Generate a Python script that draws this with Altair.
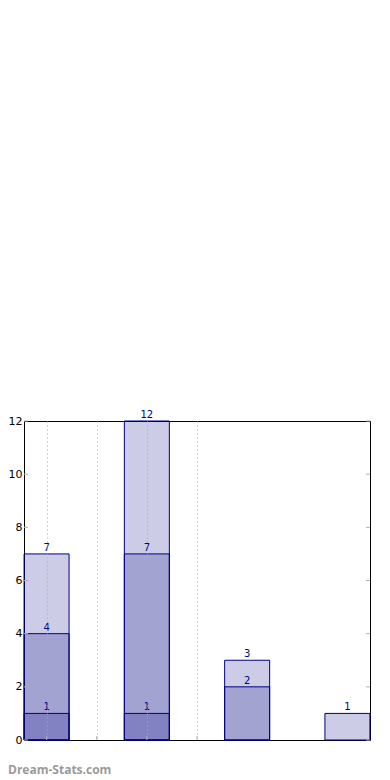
import altair as alt
import pandas as pd

positions = [0, 1, 2, 3]
series_total = [7, 12, 3, 1]
series_mid = [4, 7, 2, 0]
series_low = [1, 1, 0, 0]
y_ticks = [0, 2, 4, 6, 8, 10, 12]
x_grid = [0, 0.5, 1, 1.5]
watermark = ["Dream-Stats.com"]

rows = []
for name, vals in [("total", series_total), ("mid", series_mid), ("low", series_low)]:
    for p, v in zip(positions, vals):
        if v > 0:
            rows.append({"pos": p, "value": v, "series": name})
df = pd.DataFrame(rows)

W, H = 346, 319
xscale = alt.Scale(domain=[-0.225, 3.225], nice=False, zero=False, padding=0)
yscale = alt.Scale(domain=[0, 12], nice=False, padding=0)

x_axis = alt.Axis(values=x_grid, grid=True, gridDash=[1, 3], gridColor="#a8a8a8",
                  gridWidth=1, labels=False, ticks=False, domain=False, title=None, zindex=1)
y_axis = alt.Axis(values=y_ticks, grid=False, ticks=False, domain=False, title=None,
                  labelFont="DejaVu Sans", labelFontSize=11, labelColor="black", labelPadding=2)

bars = alt.Chart(df).mark_bar(size=45, fill="#000080", fillOpacity=0.2,
                              stroke="#000080", strokeWidth=1).encode(
    x=alt.X("pos:Q", scale=xscale, axis=x_axis),
    y=alt.Y("value:Q", scale=yscale, axis=y_axis, stack=None),
)

labels = alt.Chart(df).mark_text(font="DejaVu Sans", fontSize=10, color="#00008b",
                                 baseline="bottom", dy=-1).encode(
    x=alt.X("pos:Q", scale=xscale),
    y=alt.Y("value:Q", scale=yscale, stack=None),
    text=alt.Text("value:Q"),
)

ydf = pd.DataFrame({"t": y_ticks})
xdf = pd.DataFrame({"g": x_grid})
tick_color = "#b0b0b0"
left_ticks = alt.Chart(ydf).mark_rule(color=tick_color, strokeWidth=1).encode(
    y=alt.Y("t:Q", scale=yscale), x=alt.value(0), x2=alt.value(4))
right_ticks = alt.Chart(ydf).mark_rule(color=tick_color, strokeWidth=1).encode(
    y=alt.Y("t:Q", scale=yscale), x=alt.value(W - 4), x2=alt.value(W))
bottom_ticks = alt.Chart(xdf).mark_rule(color=tick_color, strokeWidth=1).encode(
    x=alt.X("g:Q", scale=xscale), y=alt.value(H - 4), y2=alt.value(H))

wm = alt.Chart(pd.DataFrame({"w": watermark})).mark_text(
    font="Open Sans", fontSize=12, fontWeight="bold", color="#9a9a9a",
    align="left", baseline="alphabetic").encode(
    text="w:N", x=alt.value(-16), y=alt.value(H + 34))

chart = alt.layer(bars, labels, left_ticks, right_ticks, bottom_ticks, wm).properties(
    width=W, height=H,
    autosize=alt.AutoSizeParams(type="none"),
    padding={"left": 16, "top": 413, "right": 12, "bottom": 38},
).configure_view(stroke="black", strokeWidth=1)

chart.save("out.html", embed_options={"renderer": "svg", "actions": False})
